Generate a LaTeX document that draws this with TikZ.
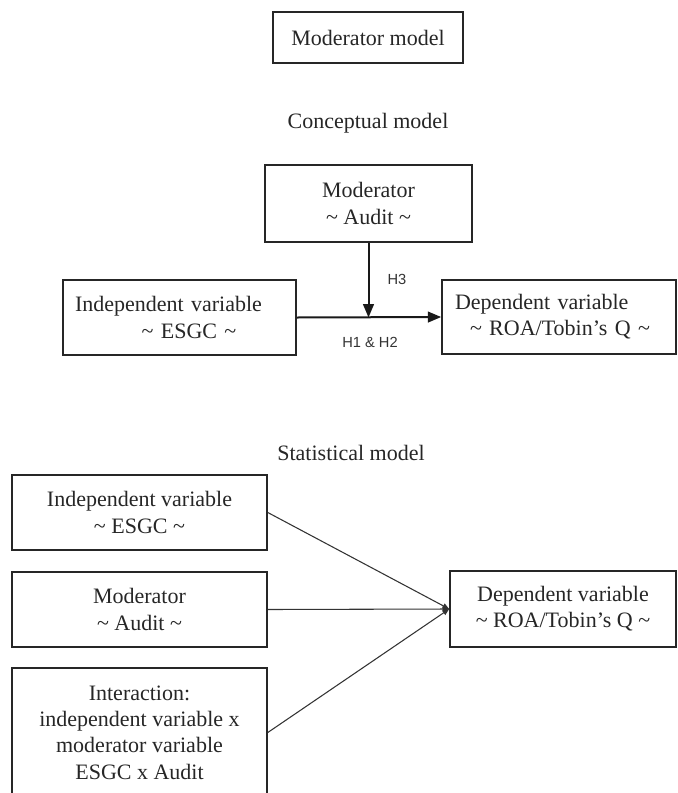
\documentclass[tikz,border=0pt]{standalone}
\usepackage{fontspec}
\setmainfont{Liberation Serif}
\newfontfamily\hfont{Liberation Sans}
\usetikzlibrary{arrows.meta}
\newcommand{\boxfont}{\fontsize{16.5}{19.7}\selectfont}
\newcommand{\tl}{\textasciitilde}
\tikzset{
  varbox/.style={draw=black!85, line width=1.2pt, inner sep=0pt, align=center, text=black!85, font=\boxfont},
  leftbox/.style={varbox, align=left, inner xsep=9pt},
  heading/.style={text=black!85, font=\boxfont},
  hlabel/.style={text=black!80, font=\hfont\fontsize{11}{13}\selectfont},
  thickarrow/.style={draw=black!90, line width=1.5pt, -{Triangle[length=10pt,width=8pt]}},
  thinarrow/.style={draw=black!80, line width=0.8pt, -{Triangle[length=5pt,width=4pt]}},
}
\begin{document}
\begin{tikzpicture}[x=0.75pt,y=0.75pt,yscale=-1,xscale=1]
        \useasboundingbox (0,0) rectangle (678,793);
        \clip (0,0) rectangle (678,793);

        % Title box
        \node [varbox, minimum width=142.5pt, minimum height=38.25pt] (title) at (368,37.5) {Moderator model};

        % Conceptual model
        \node [heading] (concept) at (368,123) {Conceptual model};
        %Rect moderator
        \node [varbox, minimum width=155.25pt, minimum height=57.75pt] (mod) at (368.5,203.5) {Moderator\\ \tl{} Audit \tl};
        %Rect independent
        \node [leftbox, text width=156.75pt, minimum height=56.25pt] (indep) at (179.5,317.5) {Independent variable\\ \hspace*{50pt}\tl{} ESGC \tl};
        %Rect dependent
        \node [leftbox, inner xsep=9.75pt, text width=156pt, minimum height=55.5pt] (dep) at (559,317) {Dependent variable\\ \hspace*{11.25pt}\tl{} ROA/Tobin’s Q \tl};
        %Straight Lines
        \draw [thickarrow] (indep.east) -- (dep.west);
        \draw [thickarrow] (mod.south) -- (mod.south |- indep.east);
        % Text Node
        \node [hlabel] (h3) at (397,279) {H3};
        % Text Node
        \node [hlabel] (h12) at (370,342) {H1 \& H2};

        % Statistical model
        \node [heading] (stat) at (351,453) {Statistical model};
        %Rect independent
        \node [varbox, minimum width=191.25pt, minimum height=56.25pt] (sindep) at (139.5,512.5) {Independent variable\\ \tl{} ESGC \tl};
        %Rect moderator
        \node [varbox, minimum width=191.25pt, minimum height=56.25pt] (smod) at (139.5,609.5) {Moderator\\ \tl{} Audit \tl};
        %Rect interaction
        \node [varbox, minimum width=191.25pt, minimum height=96.75pt] (sint) at (139.5,732.5) {Interaction:\\ independent variable x\\ moderator variable\\ ESGC x Audit};
        %Rect dependent
        \node [varbox, minimum width=169.5pt, minimum height=57pt] (sdep) at (563,609) {Dependent variable\\ \tl{} ROA/Tobin’s Q \tl};
        %Straight Lines
        \draw [thinarrow] (sindep.east) -- (sdep.west);
        \draw [thinarrow] (smod.east) -- (sdep.west);
        \draw [thinarrow] (sint.east) -- (sdep.west);
    \end{tikzpicture}
\end{document}
